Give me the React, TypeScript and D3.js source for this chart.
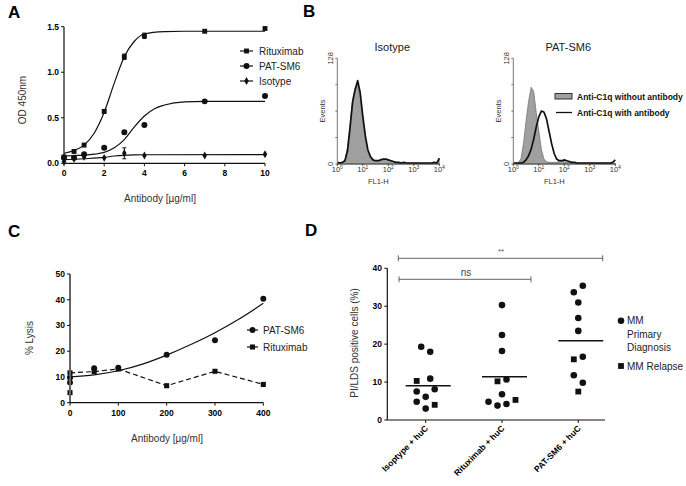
import React from "react";
import * as d3 from "d3";

const FONT = "Liberation Sans, Arial, Helvetica, sans-serif";

// ---- panel A: OD 450nm vs antibody
const doseA = [0, 0.5, 1, 2, 3, 4, 7, 10];
const ritOD = [0.07, 0.13, 0.2, 0.57, 1.17, 1.4, 1.45, 1.48];
const ritErr = [0, 0, 0.01, 0.02, 0.03, 0.03, 0, 0];
const patOD = [0.06, 0.06, 0.1, 0.17, 0.34, 0.42, 0.68, 0.74];
const patErr = [0, 0, 0.01, 0, 0.02, 0, 0, 0];
const isoOD = [0.02, 0.05, 0.07, 0.06, 0.11, 0.085, 0.085, 0.1];
const isoErr = [0, 0, 0, 0, 0.06, 0, 0, 0];
// fitted curves
const ritFitX = [0, 0.5, 1, 1.5, 2, 2.5, 3, 3.5, 4, 5, 6, 8, 10];
const ritFitY = [0.11, 0.14, 0.2, 0.33, 0.56, 0.88, 1.17, 1.34, 1.42, 1.445, 1.45, 1.45, 1.45];
const patFitX = [0, 0.5, 1, 1.5, 2, 2.5, 3, 3.5, 4, 4.5, 5, 6, 7, 10];
const patFitY = [0.08, 0.085, 0.09, 0.1, 0.12, 0.17, 0.26, 0.4, 0.52, 0.6, 0.64, 0.675, 0.68, 0.68];
const isoFitX = [0, 1, 2, 2.5, 3, 3.5, 4, 10];
const isoFitY = [0.04, 0.05, 0.065, 0.08, 0.088, 0.092, 0.094, 0.095];
const legendA = ["Rituximab", "PAT-SM6", "Isotype"];

// ---- panel B: flow histograms, bins every 0.1 decade from 10^0 to 10^4
const isoWithout = [1, 1, 2, 5, 20, 48, 78, 93, 95, 80, 52, 30, 14, 7, 4, 3, 3, 4, 5, 6, 5, 4, 3, 2, 2, 2, 1, 1, 1, 1, 1, 1, 1, 1, 1, 1, 1, 1, 1, 1, 6];
const isoWith = [2, 1, 2, 4, 16, 44, 75, 90, 101, 86, 58, 34, 17, 9, 5, 4, 4, 5, 6, 6, 5, 4, 3, 2, 2, 1, 2, 1, 1, 1, 1, 1, 1, 1, 1, 1, 1, 1, 2, 1, 7];
const patWithout = [1, 1, 2, 6, 25, 52, 76, 93, 88, 62, 40, 18, 6, 3, 2, 2, 2, 2, 3, 3, 3, 2, 2, 1, 1, 1, 1, 1, 1, 1, 1, 1, 1, 1, 1, 1, 1, 1, 1, 1, 1];
const patWith = [1, 1, 1, 1, 2, 5, 10, 18, 30, 45, 57, 64, 63, 55, 40, 25, 13, 6, 4, 4, 5, 4, 3, 2, 2, 1, 1, 1, 1, 1, 1, 1, 1, 1, 1, 1, 1, 1, 1, 2, 5];
const binDecades = d3.range(41).map(i => i / 10);
const decades = [0, 1, 2, 3, 4];
const legendB = ["Anti-C1q without antibody", "Anti-C1q with antibody"];

// ---- panel C: % lysis
const patCDose = [0, 0, 50, 100, 200, 300, 400];
const patCVal = [7.8, 9.7, 13.4, 13.6, 18.6, 24.3, 40.4];
const ritCDose = [0, 0, 50, 100, 200, 300, 400];
const ritCVal = [3.9, 11.6, 12.1, 13.1, 6.6, 12.2, 7.1];
const ritCLineDose = [0, 50, 100, 200, 300, 400];
const ritCLineVal = [11.6, 12.1, 13.1, 6.6, 12.2, 7.1];
const patCFitX = [0, 50, 100, 150, 200, 250, 300, 350, 400];
const patCFitY = [10, 10.8, 12.4, 15, 18.5, 22.6, 27.2, 32.5, 38.6];

// ---- panel D: PI/LDS positive cells
const groupsD = ["Isoptype + huC", "Rituximab + huC", "PAT-SM6 + huC"];
const isoD = [19.3, 18.0, 10.3, 10.9, 7.5, 8.1, 6.1, 4.8, 4.0, 3.0];
const isoDType = ["p", "p", "r", "p", "p", "p", "p", "p", "r", "p"];
const isoDJit = [-1, 1, -2, 1, -2, 2, 0, -2, 2, 0];
const ritD = [30.3, 22.4, 18.2, 10.7, 10.2, 6.8, 4.8, 3.8, 4.2, 5.3];
const ritDType = ["p", "p", "p", "p", "r", "p", "p", "p", "p", "r"];
const ritDJit = [0, 0, 0, 1, -1, 0, -3, -1, 1, 3];
const patD = [35.4, 33.7, 31.0, 26.9, 23.5, 16.7, 16.0, 11.8, 9.8, 7.5];
const patDType = ["p", "p", "p", "p", "p", "p", "r", "p", "p", "r"];
const patDJit = [1, -1, 0, 0, 0, 1, -1, -1, 1, 0];
const meansD = [9.0, 11.4, 20.9];

const sym = (t: any, s: number) => d3.symbol(t, s)() as string;

function AxisLabelB({ x, e }: { x: number; e: number }) {
  return (
    <text x={x} y={172} textAnchor="middle" fontSize={7.5} fill="#333">
      10<tspan dy={-3} fontSize={5}>{e}</tspan>
    </text>
  );
}

function Histo({ x0, title, gray, black }: { x0: number; title: string; gray: number[]; black: number[] }) {
  const x = d3.scaleLog().domain([1, 1e4]).range([x0, x0 + 102]);
  const y = d3.scaleLinear().domain([0, 128]).range([164, 58.3]);
  const area = d3.area<number>().x((d, i) => x(Math.pow(10, binDecades[i]))).y0(y(0)).y1(d => y(d));
  const line = d3.line<number>().x((d, i) => x(Math.pow(10, binDecades[i]))).y(d => y(d));
  return (
    <g fontFamily={FONT}>
      <text x={x0 + 55} y={51} textAnchor="middle" fontSize={11} fill="#222">{title}</text>
      <path d={area(gray) as string} fill="#a0a0a0" stroke="#6a6a6a" strokeWidth={0.7} />
      <path d={line(black) as string} fill="none" stroke="#111" strokeWidth={1.7} strokeLinejoin="round" />
      <line x1={x0} x2={x0} y1={y(0)} y2={y(128)} stroke="#777" strokeWidth={1} />
      <line x1={x0} x2={x(1e4)} y1={y(0)} y2={y(0)} stroke="#444" strokeWidth={1} />
      {[0, 32, 64, 96, 128].map(t => (
        <line key={t} x1={x0 - 2} x2={x0} y1={y(t)} y2={y(t)} stroke="#777" />
      ))}
      {decades.map(e => (
        <g key={e}>
          <line x1={x(Math.pow(10, e))} x2={x(Math.pow(10, e))} y1={y(0)} y2={y(0) + 2} stroke="#444" />
          <AxisLabelB x={x(Math.pow(10, e))} e={e} />
        </g>
      ))}
      <text transform={`translate(${x0 - 4},${y(128)}) rotate(-90)`} textAnchor="middle" fontSize={7.5} fill="#333">128</text>
      <text transform={`translate(${x0 - 4},${y(0)}) rotate(-90)`} textAnchor="middle" fontSize={7.5} fill="#333">0</text>
      <text transform={`translate(${x0 - 12},111) rotate(-90)`} textAnchor="middle" fontSize={7.5} fill="#333">Events</text>
      <text x={x0 + 41} y={184} textAnchor="middle" fontSize={7.5} fill="#333">FL1-H</text>
    </g>
  );
}

export default function App() {
  // A scales
  const xA = d3.scaleLinear().domain([0, 10]).range([64, 265]);
  const yA = d3.scaleLinear().domain([0, 1.5]).range([163.3, 26.7]);
  const fitA = (xs: number[], ys: number[]) =>
    d3.line<number>().x((d, i) => xA(xs[i])).y(d => yA(d)).curve(d3.curveMonotoneX)(ys) as string;
  const seriesA = [
    { name: legendA[0], vals: ritOD, err: ritErr, fx: ritFitX, fy: ritFitY, m: sym(d3.symbolSquare, 24) },
    { name: legendA[1], vals: patOD, err: patErr, fx: patFitX, fy: patFitY, m: sym(d3.symbolCircle, 28) },
    { name: legendA[2], vals: isoOD, err: isoErr, fx: isoFitX, fy: isoFitY, m: sym(d3.symbolDiamond, 18) },
  ];

  // C scales
  const xC = d3.scaleLinear().domain([0, 400]).range([70, 263.3]);
  const yC = d3.scaleLinear().domain([0, 50]).range([402.7, 274]);
  const lineC = (xs: number[], ys: number[], curve: any) =>
    d3.line<number>().x((d, i) => xC(xs[i])).y(d => yC(d)).curve(curve)(ys) as string;

  // D scales
  const xD = d3.scalePoint<string>().domain(groupsD).range([425.7, 578.3]);
  const yD = d3.scaleLinear().domain([0, 40]).range([420, 268.3]);
  const groupData = [
    { v: isoD, t: isoDType, j: isoDJit },
    { v: ritD, t: ritDType, j: ritDJit },
    { v: patD, t: patDType, j: patDJit },
  ];
  const circD = sym(d3.symbolCircle, 34);
  const sqD = sym(d3.symbolSquare, 34);

  return (
    <svg width={686} height={486} style={{ position: "absolute", left: 0, top: 0, background: "#fff" }} fontFamily={FONT}>
      {/* panel letters */}
      <text x={8} y={18} fontSize={17} fontWeight="bold">A</text>
      <text x={303} y={17} fontSize={17} fontWeight="bold">B</text>
      <text x={8} y={237} fontSize={17} fontWeight="bold">C</text>
      <text x={305} y={236} fontSize={17} fontWeight="bold">D</text>

      {/* ---------- A ---------- */}
      <g>
        {seriesA.map(s => (
          <path key={s.name} d={fitA(s.fx, s.fy)} fill="none" stroke="#111" strokeWidth={1.2} />
        ))}
        {seriesA.map(s =>
          s.vals.map((v, i) => (
            <g key={s.name + i}>
              {s.err[i] > 0 && (
                <g stroke="#111" strokeWidth={1}>
                  <line x1={xA(doseA[i])} x2={xA(doseA[i])} y1={yA(v - s.err[i])} y2={yA(v + s.err[i])} />
                  <line x1={xA(doseA[i]) - 2} x2={xA(doseA[i]) + 2} y1={yA(v - s.err[i])} y2={yA(v - s.err[i])} />
                  <line x1={xA(doseA[i]) - 2} x2={xA(doseA[i]) + 2} y1={yA(v + s.err[i])} y2={yA(v + s.err[i])} />
                </g>
              )}
              <path d={s.m} transform={`translate(${xA(doseA[i])},${yA(v)})`} fill="#111" />
            </g>
          ))
        )}
        <line x1={xA(0)} x2={xA(0)} y1={yA(0)} y2={yA(1.5)} stroke="#111" strokeWidth={1.2} />
        <line x1={xA(0)} x2={xA(10)} y1={yA(0)} y2={yA(0)} stroke="#111" strokeWidth={1.2} />
        {[0, 0.5, 1, 1.5].map(t => (
          <g key={t}>
            <line x1={xA(0) - 3} x2={xA(0)} y1={yA(t)} y2={yA(t)} stroke="#111" />
            <text x={xA(0) - 5} y={yA(t) + 3} textAnchor="end" fontSize={8.5} fontWeight="bold">{t.toFixed(1)}</text>
          </g>
        ))}
        {xA.ticks(5).map(t => (
          <g key={t}>
            <line x1={xA(t)} x2={xA(t)} y1={yA(0)} y2={yA(0) + 3} stroke="#111" />
            <text x={xA(t)} y={176} textAnchor="middle" fontSize={8.5} fontWeight="bold">{t}</text>
          </g>
        ))}
        <text x={160} y={202} textAnchor="middle" fontSize={10} fill="#333">Antibody [µg/ml]</text>
        <text transform="translate(26,100) rotate(-90)" textAnchor="middle" fontSize={10} fill="#333">OD 450nm</text>
        {seriesA.map((s, i) => (
          <g key={s.name} transform={`translate(0,${51 + i * 15})`}>
            <line x1={240} x2={253} y1={0} y2={0} stroke="#111" strokeWidth={1.2} />
            <path d={s.m} transform="translate(246.5,0)" fill="#111" />
            <text x={259} y={3.5} fontSize={10} fill="#222">{s.name}</text>
          </g>
        ))}
      </g>

      {/* ---------- B ---------- */}
      <Histo x0={337.3} title="Isotype" gray={isoWithout} black={isoWith} />
      <Histo x0={513.3} title="PAT-SM6" gray={patWithout} black={patWith} />
      <g>
        <rect x={555} y={93.5} width={17} height={5.5} fill="#a0a0a0" stroke="#333" strokeWidth={1} />
        <text x={577} y={99.5} fontSize={8.5} fontWeight="bold" fill="#111">{legendB[0]}</text>
        <line x1={556} x2={572} y1={112.5} y2={112.5} stroke="#111" strokeWidth={1.3} />
        <text x={577} y={115.5} fontSize={8.5} fontWeight="bold" fill="#111">{legendB[1]}</text>
      </g>

      {/* ---------- C ---------- */}
      <g>
        <path d={lineC(patCFitX, patCFitY, d3.curveMonotoneX)} fill="none" stroke="#111" strokeWidth={1.2} />
        <path d={lineC(ritCLineDose, ritCLineVal, d3.curveLinear)} fill="none" stroke="#111" strokeWidth={1.2} strokeDasharray="5,3" />
        {patCVal.map((v, i) => (
          <path key={"pc" + i} d={sym(d3.symbolCircle, 28)} transform={`translate(${xC(patCDose[i])},${yC(v)})`} fill="#111" />
        ))}
        {ritCVal.map((v, i) => (
          <path key={"rc" + i} d={sym(d3.symbolSquare, 26)} transform={`translate(${xC(ritCDose[i])},${yC(v)})`} fill="#111" />
        ))}
        <line x1={xC(0)} x2={xC(0)} y1={yC(0)} y2={yC(50)} stroke="#666" strokeWidth={2} />
        <line x1={xC(0)} x2={xC(400)} y1={yC(0)} y2={yC(0)} stroke="#111" strokeWidth={1.2} />
        {yC.ticks(5).map(t => (
          <g key={t}>
            <line x1={xC(0) - 3} x2={xC(0)} y1={yC(t)} y2={yC(t)} stroke="#111" />
            <text x={xC(0) - 5} y={yC(t) + 3} textAnchor="end" fontSize={8.5} fontWeight="bold">{t}</text>
          </g>
        ))}
        {xC.ticks(4).map(t => (
          <g key={t}>
            <line x1={xC(t)} x2={xC(t)} y1={yC(0)} y2={yC(0) + 3} stroke="#111" />
            <text x={xC(t)} y={416} textAnchor="middle" fontSize={8.5} fontWeight="bold">{t}</text>
          </g>
        ))}
        <text x={167} y={442} textAnchor="middle" fontSize={10} fill="#333">Antibody [µg/ml]</text>
        <text transform="translate(33,338) rotate(-90)" textAnchor="middle" fontSize={10} fill="#333">% Lysis</text>
        <line x1={247} x2={258} y1={330} y2={330} stroke="#111" strokeWidth={1.2} />
        <path d={sym(d3.symbolCircle, 28)} transform="translate(252.5,330)" fill="#111" />
        <text x={263} y={333.5} fontSize={10} fill="#222">PAT-SM6</text>
        <line x1={247} x2={250} y1={347} y2={347} stroke="#111" strokeWidth={1.2} />
        <line x1={255} x2={258} y1={347} y2={347} stroke="#111" strokeWidth={1.2} />
        <path d={sym(d3.symbolSquare, 26)} transform="translate(252.5,347)" fill="#111" />
        <text x={263} y={350.5} fontSize={10} fill="#222">Rituximab</text>
      </g>

      {/* ---------- D ---------- */}
      <g>
        {groupData.map((g, gi) =>
          g.v.map((v, i) => (
            <path
              key={gi + "-" + i}
              d={g.t[i] === "r" ? sqD : circD}
              transform={`translate(${(xD(groupsD[gi]) as number) + g.j[i] * 4.5},${yD(v)})`}
              fill="#111"
            />
          ))
        )}
        {meansD.map((m, i) => (
          <line key={i} x1={(xD(groupsD[i]) as number) - 20} x2={(xD(groupsD[i]) as number) + 25} y1={yD(m)} y2={yD(m)} stroke="#111" strokeWidth={1.5} />
        ))}
        <line x1={387.3} x2={387.3} y1={yD(0)} y2={yD(40)} stroke="#111" strokeWidth={1.2} />
        <line x1={387.3} x2={605} y1={yD(0)} y2={yD(0)} stroke="#111" strokeWidth={1.2} />
        {yD.ticks(4).map(t => (
          <g key={t}>
            <line x1={384.3} x2={387.3} y1={yD(t)} y2={yD(t)} stroke="#111" />
            <text x={382} y={yD(t) + 3} textAnchor="end" fontSize={8.5} fontWeight="bold">{t}</text>
          </g>
        ))}
        {groupsD.map(g => (
          <g key={g}>
            <line x1={xD(g)} x2={xD(g)} y1={yD(0)} y2={yD(0) + 3} stroke="#111" />
            <text transform={`translate(${(xD(g) as number) + 3},429) rotate(-45)`} textAnchor="end" fontSize={8.5} fontWeight="bold">{g}</text>
          </g>
        ))}
        <text transform="translate(358,343) rotate(-90)" textAnchor="middle" fontSize={10} fill="#333">PI/LDS positive cells (%)</text>
        {/* significance brackets */}
        <g stroke="#555" strokeWidth={0.9}>
          <line x1={398.3} x2={602.7} y1={258.3} y2={258.3} />
          <line x1={398.3} x2={398.3} y1={255.3} y2={261.3} />
          <line x1={602.7} x2={602.7} y1={255.3} y2={261.3} />
          <line x1={399} x2={531} y1={279.3} y2={279.3} />
          <line x1={399} x2={399} y1={276.3} y2={282.3} />
          <line x1={531} x2={531} y1={276.3} y2={282.3} />
        </g>
        <text x={501} y={254} textAnchor="middle" fontSize={8} fill="#555">**</text>
        <text x={466} y={275.5} textAnchor="middle" fontSize={10} fill="#444">ns</text>
        {/* legend */}
        <path d={circD} transform="translate(621,320.7)" fill="#111" />
        <text x={627} y={324.3} fontSize={10} fill="#222">MM</text>
        <text x={627} y={337.6} fontSize={10} fill="#222">Primary</text>
        <text x={627} y={350.9} fontSize={10} fill="#222">Diagnosis</text>
        <path d={sqD} transform="translate(621,366)" fill="#111" />
        <text x={627} y={369.6} fontSize={10} fill="#222">MM Relapse</text>
      </g>
    </svg>
  );
}
